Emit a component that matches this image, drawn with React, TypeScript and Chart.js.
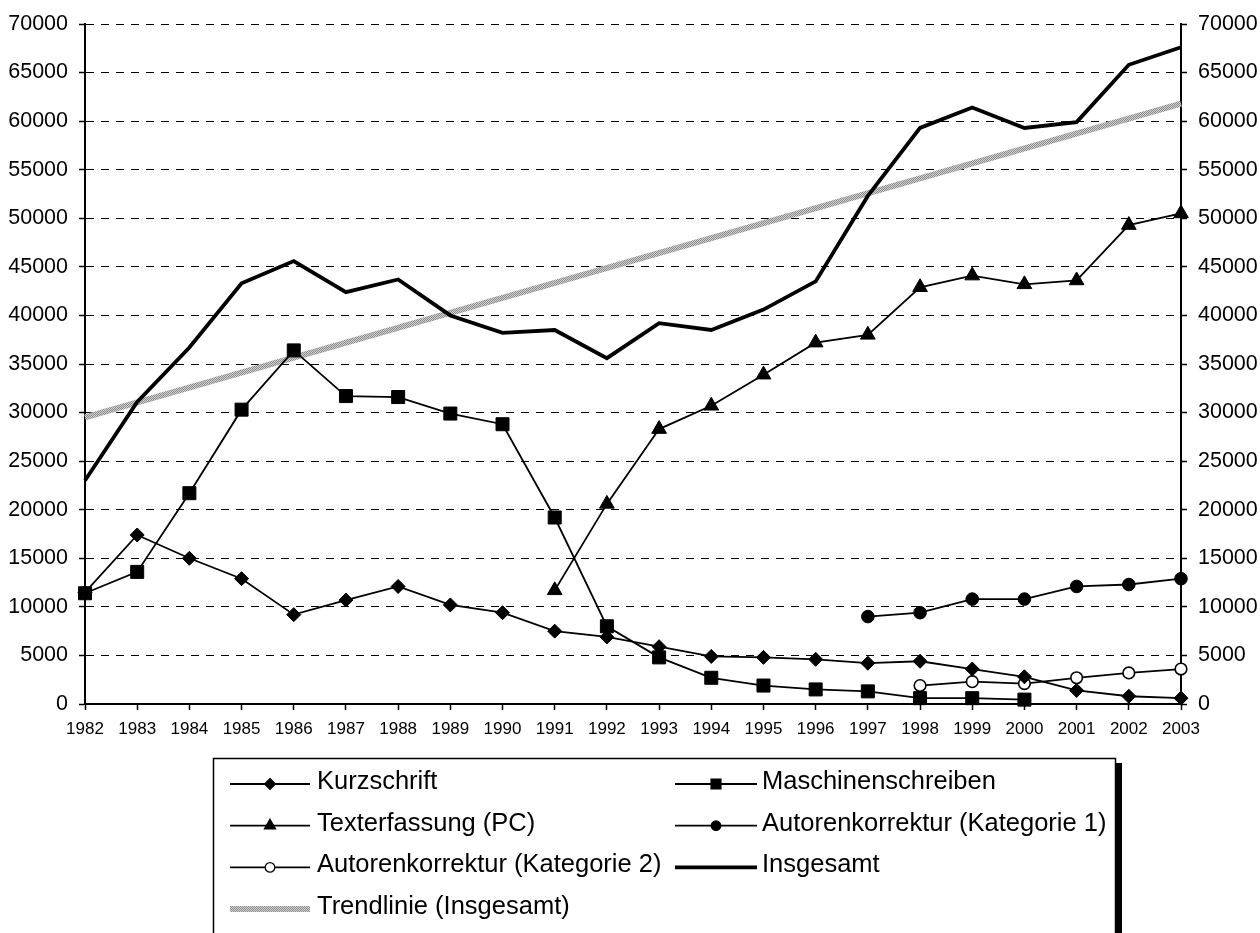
import React, { useEffect, useRef } from 'react';
import { Chart, registerables } from 'chart.js';

Chart.register(...registerables);

const years = ['1982','1983','1984','1985','1986','1987','1988','1989','1990','1991','1992','1993','1994','1995','1996','1997','1998','1999','2000','2001','2002','2003'];

const kurzschrift = [11500,17400,15000,12900,9200,10700,12100,10200,9400,7500,6900,5900,4900,4800,4600,4200,4400,3600,2800,1400,800,600];
const maschinenschreiben = [11400,13600,21700,30300,36400,31700,31600,29900,28800,19200,8000,4800,2700,1900,1500,1300,600,600,450,null,null,null];
const texterfassung = [null,null,null,null,null,null,null,null,null,11700,20600,28300,30700,33900,37200,38000,42900,44100,43200,43600,49300,50500];
const autorenKat1 = [null,null,null,null,null,null,null,null,null,null,null,null,null,null,null,9000,9400,10800,10800,12100,12300,12900];
const autorenKat2 = [null,null,null,null,null,null,null,null,null,null,null,null,null,null,null,null,1900,2300,2100,2700,3200,3600];
const insgesamt = [23000,31100,36700,43300,45600,42400,43700,40000,38200,38500,35600,39200,38500,40600,43500,52300,59300,61400,59300,59900,65800,67600];
const trendInsgesamt = [29500,null,null,null,null,null,null,null,null,null,null,null,null,null,null,null,null,null,null,null,null,61800];

const seriesLabels = [
  'Kurzschrift',
  'Maschinenschreiben',
  'Texterfassung (PC)',
  'Autorenkorrektur (Kategorie 1)',
  'Autorenkorrektur (Kategorie 2)',
  'Insgesamt',
  'Trendlinie (Insgesamt)',
];

const FONT = '"Liberation Sans", Arial, sans-serif';

function drawMarker(c: CanvasRenderingContext2D, style: string, x: number, y: number, r: number, fill: string) {
  c.beginPath();
  if (style === 'rectRot') {
    c.moveTo(x, y - r); c.lineTo(x + r, y); c.lineTo(x, y + r); c.lineTo(x - r, y); c.closePath();
  } else if (style === 'rect') {
    const s = r * Math.SQRT1_2;
    c.rect(x - s, y - s, 2 * s, 2 * s);
  } else if (style === 'triangle') {
    for (let k = 0; k < 3; k++) {
      const a = -Math.PI / 2 + k * (2 * Math.PI / 3);
      const px = x + Math.cos(a) * r, py = y + Math.sin(a) * r;
      if (k === 0) c.moveTo(px, py); else c.lineTo(px, py);
    }
    c.closePath();
  } else {
    c.arc(x, y, r, 0, Math.PI * 2);
  }
  c.fillStyle = fill;
  c.fill();
  c.lineWidth = 1.2;
  c.strokeStyle = '#000';
  c.stroke();
}

const legendPlugin = {
  id: 'customLegend',
  afterDraw(chart: any) {
    const c: CanvasRenderingContext2D = chart.ctx;
    c.save();
    c.fillStyle = '#000';
    c.fillRect(1116, 763, 6, 200);
    c.fillStyle = '#fff';
    c.fillRect(213, 758, 902, 200);
    c.strokeStyle = '#000';
    c.lineWidth = 1.5;
    c.strokeRect(213.5, 758.5, 902, 200);

    const colLineStart = [230, 675];
    const colLineEnd = [310, 757];
    const colText = [317, 762];
    const rowY0 = 784;
    const rowStep = 41.7;
    const legendRadius: Record<string, number> = { rectRot: 5.5, rect: 7, triangle: 6.5, circle: 4.8 };

    chart.data.datasets.forEach((ds: any, i: number) => {
      const col = i % 2;
      const row = Math.floor(i / 2);
      const y = rowY0 + row * rowStep;
      c.beginPath();
      c.moveTo(colLineStart[col], y);
      c.lineTo(colLineEnd[col], y);
      c.lineWidth = ds.legendLineWidth || ds.borderWidth;
      c.strokeStyle = ds.borderColor;
      c.lineCap = 'butt';
      c.stroke();
      if (ds.pointRadius > 0) {
        const mx = (colLineStart[col] + colLineEnd[col]) / 2;
        drawMarker(c, ds.pointStyle, mx, y, legendRadius[ds.pointStyle] || 5, ds.pointBackgroundColor);
      }
      c.fillStyle = '#000';
      c.font = `25.5px ${FONT}`;
      c.textAlign = 'left';
      c.textBaseline = 'middle';
      c.fillText(ds.label, colText[col], y - 2);
    });
    c.restore();
  },
};

const whiteBg = {
  id: 'whiteBg',
  beforeDraw(chart: any) {
    const c = chart.ctx;
    c.save();
    c.fillStyle = '#fff';
    c.fillRect(0, 0, chart.width, chart.height);
    c.restore();
  },
};

export default function App() {
  const ref = useRef<HTMLCanvasElement>(null);
  useEffect(() => {
    const canvas = ref.current!;
    const ctx = canvas.getContext('2d')!;

    const pc = document.createElement('canvas');
    pc.width = 2; pc.height = 2;
    const p = pc.getContext('2d')!;
    p.fillStyle = '#d0d0d0'; p.fillRect(0, 0, 2, 2);
    p.fillStyle = '#8c8c8c'; p.fillRect(0, 0, 1, 1); p.fillRect(1, 1, 1, 1);
    const trendPattern = ctx.createPattern(pc, 'repeat')!;

    const thin = {
      borderColor: '#000',
      borderWidth: 1.8,
      pointBorderColor: '#000',
      pointBorderWidth: 1,
      spanGaps: false,
      clip: false as any,
      yAxisID: 'y',
    };

    const chart = new Chart(ctx, {
      type: 'line',
      data: {
        labels: years,
        datasets: [
          { ...thin, label: seriesLabels[0], data: kurzschrift, pointStyle: 'rectRot', pointRadius: 7, pointBackgroundColor: '#000' },
          { ...thin, label: seriesLabels[1], data: maschinenschreiben, pointStyle: 'rect', pointRadius: 9.2, pointBackgroundColor: '#000' },
          { ...thin, label: seriesLabels[2], data: texterfassung, pointStyle: 'triangle', pointRadius: 8.5, pointBackgroundColor: '#000' },
          { ...thin, label: seriesLabels[3], data: autorenKat1, pointStyle: 'circle', pointRadius: 6.3, pointBackgroundColor: '#000' },
          { ...thin, label: seriesLabels[4], data: autorenKat2, pointStyle: 'circle', pointRadius: 5.8, pointBackgroundColor: '#fff', pointBorderWidth: 1.6 },
          { ...thin, label: seriesLabels[5], data: insgesamt, borderWidth: 3.8, pointRadius: 0, pointStyle: 'circle', pointBackgroundColor: '#000' },
          { ...thin, label: seriesLabels[6], data: trendInsgesamt, borderColor: trendPattern as any, borderWidth: 6, pointRadius: 0, spanGaps: true, pointStyle: 'circle', pointBackgroundColor: '#000' },
        ] as any,
      },
      options: {
        responsive: false,
        maintainAspectRatio: false,
        animation: false,
        layout: { padding: { top: 24, left: 0, right: 0, bottom: 0 } },
        elements: { line: { tension: 0 } },
        plugins: { legend: { display: false }, tooltip: { enabled: false } },
        scales: {
          x: {
            type: 'category',
            offset: false,
            grid: { drawOnChartArea: false, drawTicks: true, tickLength: 6, tickColor: '#000', tickWidth: 1.5 },
            border: { display: true, color: '#000', width: 2 },
            ticks: { color: '#000', font: { family: FONT, size: 17 }, padding: 9, autoSkip: false, maxRotation: 0, minRotation: 0 },
            afterFit: (s: any) => { s.height = 229; },
          },
          y: {
            position: 'left',
            min: 0,
            max: 70000,
            ticks: { stepSize: 5000, color: '#000', font: { family: FONT, size: 21.5 }, padding: 11, callback: (v: any) => String(v) },
            grid: { color: '#000', lineWidth: 1, drawTicks: true, tickColor: '#000', tickLength: 6, tickWidth: 1.5, tickBorderDash: [] },
            border: { display: true, color: '#000', width: 2, dash: [8, 7] },
            afterFit: (s: any) => { s.width = 85; },
          },
          y2: {
            position: 'right',
            min: 0,
            max: 70000,
            ticks: { stepSize: 5000, color: '#000', font: { family: FONT, size: 21.5 }, padding: 11, callback: (v: any) => String(v) },
            grid: { drawOnChartArea: false, drawTicks: true, tickColor: '#000', tickLength: 6, tickWidth: 1.5 },
            border: { display: true, color: '#000', width: 2 },
            afterFit: (s: any) => { s.width = 79; },
          },
        } as any,
      },
      plugins: [whiteBg, legendPlugin],
    });
    return () => chart.destroy();
  }, []);

  return (
    <div style={{ position: 'fixed', left: 0, top: 0, width: 1260, height: 933, background: '#fff' }}>
      <canvas ref={ref} width={1260} height={933} style={{ display: 'block' }} />
    </div>
  );
}
